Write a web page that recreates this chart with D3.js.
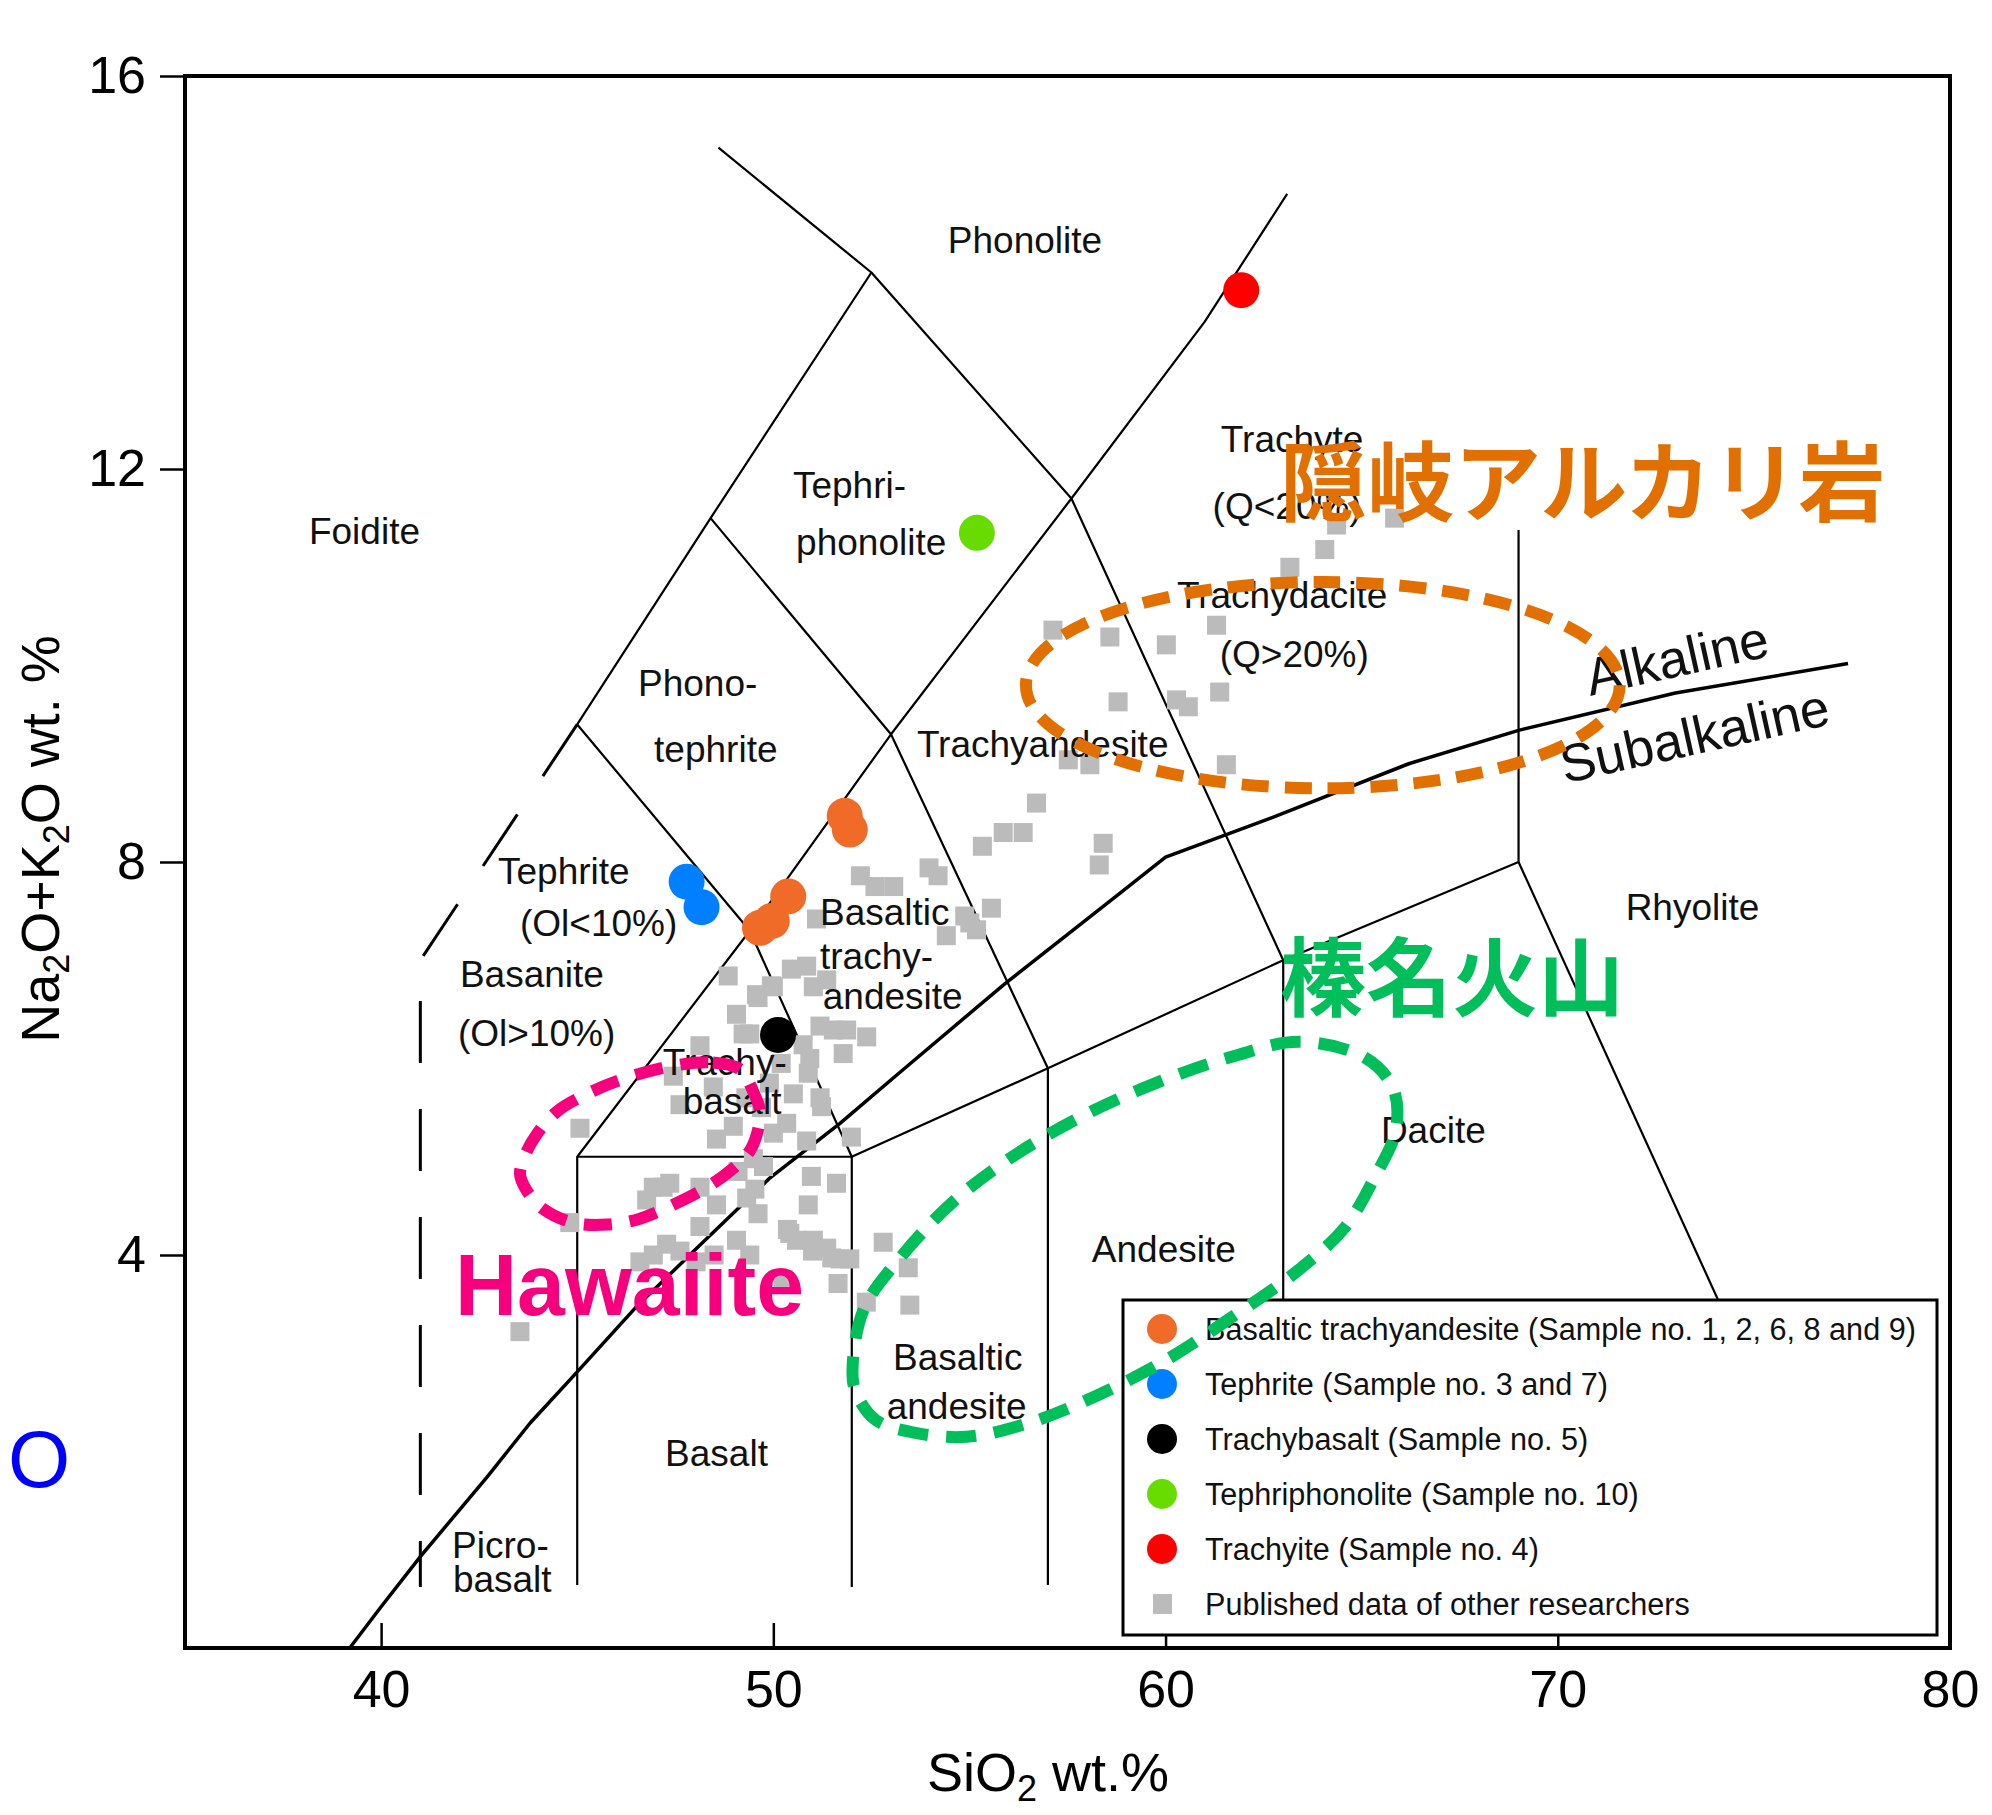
<!DOCTYPE html>
<html><head><meta charset="utf-8">
<script src="https://cdn.jsdelivr.net/npm/d3@7"></script>
<style>
body{margin:0;background:#fff;}
svg text{font-family:"Liberation Sans",Arial,sans-serif;}
</style>
</head><body>
<svg id="chart" width="1992" height="1815"></svg>
<script>
// ---------- data ----------
const xTicks = [40, 50, 60, 70, 80];
const yTicks = [4, 8, 12, 16];

const basalticTrachyandesite = [[51.82,8.47],[51.95,8.33],[50.38,7.65],[49.96,7.40],[49.66,7.33]];
const tephrite = [[47.79,7.80],[48.17,7.54]];
const trachybasalt = [[50.12,6.24]];
const tephriphonolite = [[55.19,11.35]];
const trachyite = [[61.93,13.82]];

const published = [
 [65.84,11.5],[64.36,11.43],[64.06,11.18],[63.17,11.0],[61.3,10.41],[60.02,10.21],[58.58,10.29],[57.13,10.36],
 [58.79,9.63],[60.28,9.65],[60.58,9.58],[61.38,9.73],[57.52,9.04],[58.07,8.99],[61.55,8.99],[56.71,8.60],
 [55.86,8.30],[56.37,8.30],[55.33,8.16],[58.41,8.19],[58.31,7.97],[53.97,7.94],[54.2,7.86],[52.22,7.86],
 [52.59,7.75],[53.07,7.75],[51.1,7.42],[55.56,7.53],[54.88,7.45],[55.01,7.38],[54.41,7.25],[55.18,7.31],
 [48.85,6.84],[50.46,6.91],[50.85,6.94],[49.95,6.74],[49.57,6.65],[51.02,6.73],[51.36,6.80],[49.06,6.45],
 [49.4,6.25],[51.53,6.29],[51.87,6.29],[52.38,6.22],[51.78,6.05],[50.76,6.14],[50.93,6.0],[50.89,5.85],
 [51.19,5.60],[50.51,5.64],[51.23,5.51],[50.34,5.34],[50.85,5.16],[51.99,5.20],[49.61,6.62],[50.0,6.73],
 [51.19,6.33],[48.13,6.13],[49.23,6.25],[47.45,5.82],[48.47,5.71],[47.62,5.53],[48.98,5.31],[48.55,5.18],
 [50.0,5.24],[49.49,4.98],[45.07,5.29],
 [50.97,4.80],[51.61,4.73],[50.89,4.51],[50.59,4.15],[51.02,4.15],[51.36,4.07],[51.7,3.96],[51.95,3.96],
 [51.65,3.71],[52.8,4.13],[53.44,3.87],[53.48,3.49],[52.37,3.52],[49.53,4.67],[49.61,4.42],[49.06,4.15],
 [48.13,4.69],[47.19,4.69],[46.94,4.69],[47.36,4.73],[46.77,4.56],[48.55,4.51],[49.32,4.58],[48.13,4.29],
 [50.42,4.22],[44.81,4.33],[47.28,4.11],[46.94,4.0],[46.6,3.93],[47.62,4.04],[49.4,4.0],[50.25,3.75],
 [43.54,3.22],[48.03,3.93],[48.49,4.0],[50.36,4.26],[51.0,4.04],[51.49,3.97],[49.1,4.85],[49.7,5.5],
 [49.9,5.75],[49.3,5.6],[50.2,5.95],[49.75,4.9]
];

// TAS field boundaries (SiO2, Na2O+K2O)
const boundaries = [
 [[45,9.4],[48.4,11.5],[52.5,14],[48.6,15.27]],
 [[45,0.64],[45,5],[49.4,7.3],[53,9.3],[57.6,11.7],[61,13.5],[63.1,14.8]],
 [[45,5],[52,5],[57,5.9],[63,7],[69,8],[69,11.38]],
 [[52,0.62],[52,5]],
 [[57,0.64],[57,5.9]],
 [[63,0.64],[63,7]],
 [[69,8],[77.4,0.64]],
 [[45,9.4],[49.4,7.3],[52,5]],
 [[48.4,11.5],[53,9.3],[57,5.9]],
 [[52.5,14],[57.6,11.7],[63,7]]
];
const dashedBoundary = [[45,9.4],[41,7],[41,0.62]];
const alkalineLine = [[39.2,0],[40,0.42],[41,0.93],[42.7,1.74],[43.8,2.29],[45,2.81],[46.5,3.47],[48,4.05],
 [49.9,4.78],[51.7,5.34],[53.2,5.85],[55.9,6.76],[58.8,7.67],[60,8.05],[62.7,8.45],[66.2,9.0],[69,9.34],[73,9.72],[77.4,10.02]];

const fieldLabels = [
 ["Phonolite",54.45,14.20],["Foidite",38.16,11.24],["Tephri-",50.50,11.70],["phonolite",50.58,11.12],
 ["Trachyte",61.41,12.17],["(Q<20%)",61.20,11.49],["Trachydacite",60.29,10.59],["(Q>20%)",61.38,9.98],
 ["Phono-",46.55,9.69],["tephrite",46.96,9.02],["Trachyandesite",53.66,9.07],
 ["Tephrite",42.98,7.78],["(Ol<10%)",43.54,7.25],["Basanite",42.01,6.73],["(Ol>10%)",41.96,6.13],
 ["Trachy-",47.18,5.83],["basalt",47.69,5.44],["Basaltic",51.19,7.36],["trachy-",51.19,6.91],["andesite",51.26,6.50],
 ["Dacite",65.49,5.14],["Andesite",58.12,3.93],["Basaltic",53.05,2.83],["andesite",52.89,2.33],
 ["Basalt",47.24,1.85],["Picro-",41.81,0.92],["basalt",41.83,0.57],["Rhyolite",71.73,7.41]
];

const legendItems = [
 ["Basaltic trachyandesite (Sample no. 1, 2, 6, 8 and 9)","#F06A28","circle"],
 ["Tephrite (Sample no. 3 and 7)","#0080FF","circle"],
 ["Trachybasalt (Sample no. 5)","#000000","circle"],
 ["Tephriphonolite (Sample no. 10)","#66DC00","circle"],
 ["Trachyite (Sample no. 4)","#FF0000","circle"],
 ["Published data of other researchers","#BBBBBB","square"]
];

// annotation outlines (data coords)
const harunaOutline = [[63.40,6.17],[65.08,6.01],[65.80,5.70],[65.87,5.27],[65.33,4.79],[64.57,4.28],[63.40,3.85],
 [61.59,3.34],[60.01,2.93],[58.20,2.56],[56.51,2.29],[54.93,2.15],[53.63,2.19],[52.61,2.32],[52.08,2.63],
 [52.03,2.93],[52.33,3.47],[53.25,3.98],[54.55,4.53],[55.98,4.97],[57.81,5.40],[59.75,5.75],[61.71,6.02]];
const hawaiiteOutline = [[47.36,5.92],[48.46,5.96],[49.15,5.89],[49.48,5.67],[49.66,5.46],[49.58,5.23],[49.40,5.06],
 [48.97,4.88],[48.31,4.69],[47.44,4.51],[46.60,4.37],[45.76,4.31],[44.89,4.33],[44.13,4.47],[43.72,4.65],
 [43.54,4.83],[43.72,5.06],[43.97,5.23],[44.48,5.46],[45.25,5.64],[46.09,5.78]];
const okiEllipse = {cx:64.01, cy:9.80, rx:7.57, ry:1.05};

// ---------- drawing ----------
const svg = d3.select("#chart");
const x = d3.scaleLinear().domain([35,80]).range([185,1950]);
const y = d3.scaleLinear().domain([0,16]).range([1648,76]);
const line = d3.line().x(d=>x(d[0])).y(d=>y(d[1]));

// boundaries
svg.append("g").selectAll("path").data(boundaries).join("path")
 .attr("d",line).attr("fill","none").attr("stroke","#000").attr("stroke-width",2.2).attr("stroke-linejoin","round");
svg.append("path").attr("d",line(dashedBoundary)).attr("fill","none").attr("stroke","#000")
 .attr("stroke-width",3).attr("stroke-dasharray","62,46");
svg.append("path").attr("d",line(alkalineLine)).attr("fill","none").attr("stroke","#000")
 .attr("stroke-width",3.5).attr("stroke-linejoin","round");

// published data
const sq = 19;
svg.append("g").selectAll("rect").data(published).join("rect")
 .attr("x",d=>x(d[0])-sq/2).attr("y",d=>y(d[1])-sq/2).attr("width",sq).attr("height",sq).attr("fill","#BBBBBB");

// samples
const sampleSets = [[basalticTrachyandesite,"#F06A28"],[tephrite,"#0080FF"],[trachybasalt,"#000000"],
 [tephriphonolite,"#66DC00"],[trachyite,"#FF0000"]];
sampleSets.forEach(([arr,col])=>{
 svg.append("g").selectAll("circle").data(arr).join("circle")
  .attr("cx",d=>x(d[0])).attr("cy",d=>y(d[1])).attr("r",18).attr("fill",col);
});

// field labels
svg.append("g").selectAll("text").data(fieldLabels).join("text")
 .attr("x",d=>x(d[1])).attr("y",d=>y(d[2])).attr("font-size",37).attr("fill","#111").text(d=>d[0]);

svg.append("text").attr("transform",`translate(${x(70.83)},${y(9.69)}) rotate(-12.5)`)
 .attr("font-size",53).attr("fill","#111").text("Alkaline");
svg.append("text").attr("transform",`translate(${x(70.18)},${y(8.80)}) rotate(-12.5)`)
 .attr("font-size",53).attr("fill","#111").text("Subalkaline");

// frame
svg.append("rect").attr("x",x(35)).attr("y",y(16)).attr("width",x(80)-x(35)).attr("height",y(0)-y(16))
 .attr("fill","none").attr("stroke","#000").attr("stroke-width",4);

// axes
const gx = svg.append("g").attr("transform",`translate(0,${y(0)})`)
 .call(d3.axisBottom(x).tickValues(xTicks).tickSizeInner(-25).tickSizeOuter(0).tickPadding(22));
gx.select(".domain").remove();
gx.selectAll("line").attr("stroke-width",2.5);
gx.selectAll("text").attr("font-size",52).attr("font-family","Liberation Sans, Arial, sans-serif").attr("fill","#000");

const gy = svg.append("g").attr("transform",`translate(${x(35)},0)`)
 .call(d3.axisLeft(y).tickValues(yTicks).tickSizeInner(25).tickSizeOuter(0).tickPadding(14));
gy.select(".domain").remove();
gy.selectAll("line").attr("stroke-width",2.5);
gy.selectAll("text").attr("font-size",52).attr("font-family","Liberation Sans, Arial, sans-serif").attr("fill","#000");

// axis titles
const xt = svg.append("text").attr("x",1048).attr("y",1791).attr("text-anchor","middle").attr("font-size",54);
xt.append("tspan").text("SiO");
xt.append("tspan").attr("font-size",36).attr("dy",10).text("2");
xt.append("tspan").attr("dy",-10).text(" wt.%");

const yt = svg.append("text").attr("transform","translate(59,839) rotate(-90)").attr("text-anchor","middle").attr("font-size",54);
yt.append("tspan").text("Na");
yt.append("tspan").attr("font-size",36).attr("dy",10).text("2");
yt.append("tspan").attr("dy",-10).text("O+K");
yt.append("tspan").attr("font-size",36).attr("dy",10).text("2");
yt.append("tspan").attr("dy",-10).text("O wt. %");

// legend
const lg = svg.append("g").attr("transform","translate(1123,1300)");
lg.append("rect").attr("width",814).attr("height",335).attr("fill","#fff").attr("stroke","#000").attr("stroke-width",3);
legendItems.forEach((d,i)=>{
 const cy = 29 + i*55;
 if(d[2]==="circle") lg.append("circle").attr("cx",39).attr("cy",cy).attr("r",15).attr("fill",d[1]);
 else lg.append("rect").attr("x",30).attr("y",cy-10).attr("width",19).attr("height",20).attr("fill",d[1]);
 lg.append("text").attr("x",82).attr("y",cy+11).attr("font-size",30.6).attr("fill","#111").text(d[0]);
});

// annotations
const closed = d3.line().x(d=>x(d[0])).y(d=>y(d[1])).curve(d3.curveCatmullRomClosed);
svg.append("ellipse").attr("cx",x(okiEllipse.cx)).attr("cy",y(okiEllipse.cy))
 .attr("rx",x(okiEllipse.cx+okiEllipse.rx)-x(okiEllipse.cx)).attr("ry",y(okiEllipse.cy)-y(okiEllipse.cy+okiEllipse.ry))
 .attr("fill","none").attr("stroke","#E17000").attr("stroke-width",12).attr("stroke-dasharray","27,16");
svg.append("path").attr("d",closed(harunaOutline)).attr("fill","none").attr("stroke","#00BE5A")
 .attr("stroke-width",12).attr("stroke-dasharray","30,18");
svg.append("path").attr("d",closed(hawaiiteOutline)).attr("fill","none").attr("stroke","#F7007E")
 .attr("stroke-width",12).attr("stroke-dasharray","28,18");

svg.append("text").attr("x",1280).attr("y",515).attr("font-size",87).attr("font-weight","bold")
 .style("font-family","'Noto Sans CJK JP'").attr("fill","#E17000").text("隠岐アルカリ岩");
svg.append("text").attr("x",1280).attr("y",1010).attr("font-size",86).attr("font-weight","bold")
 .style("font-family","'Noto Sans CJK JP'").attr("fill","#00BE5A").text("榛名火山");
svg.append("text").attr("x",455).attr("y",1315).attr("font-size",88).attr("font-weight","bold")
 .attr("textLength",349).attr("lengthAdjust","spacingAndGlyphs").attr("fill","#F7007E").text("Hawaiite");
svg.append("text").attr("x",8).attr("y",1487).attr("font-size",80).attr("fill","#0000FF").text("O");
</script>
</body></html>
